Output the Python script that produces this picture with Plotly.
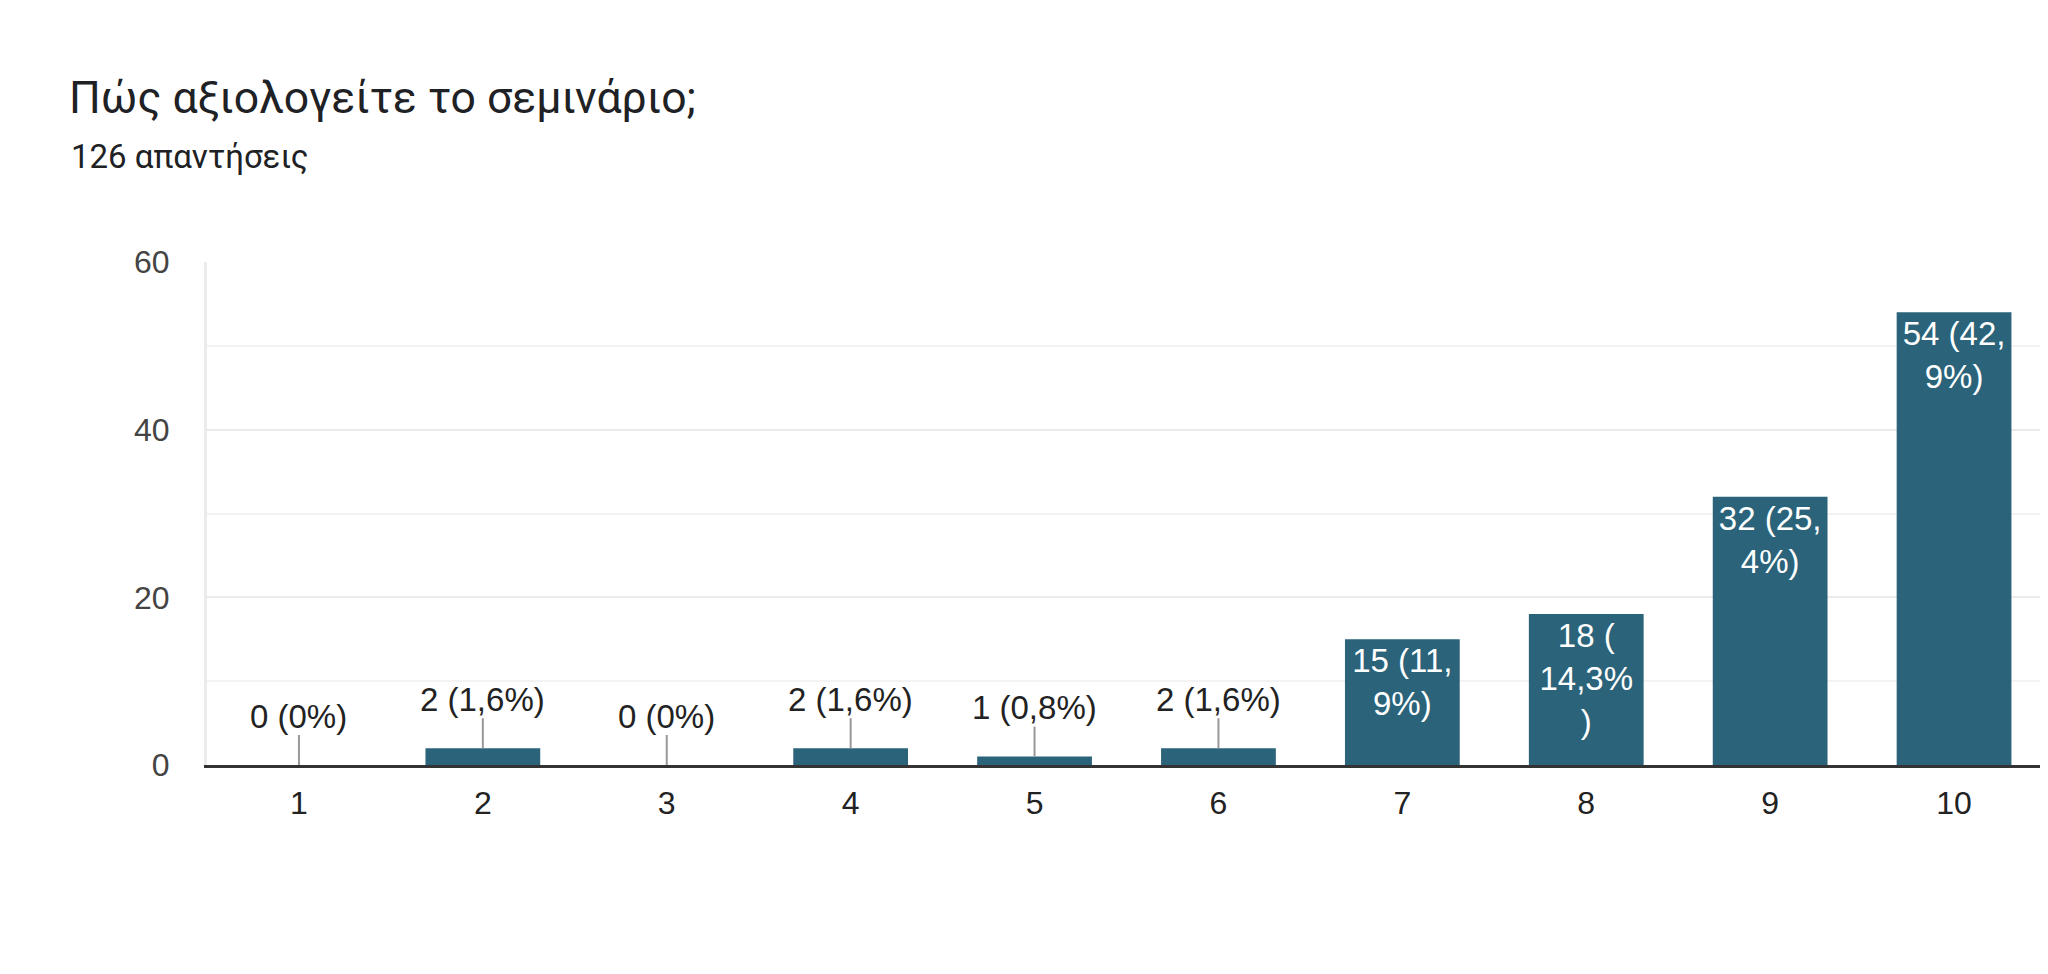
import plotly.graph_objects as go

# ---- data ----
categories = [1, 2, 3, 4, 5, 6, 7, 8, 9, 10]
counts = [0, 2, 0, 2, 1, 2, 15, 18, 32, 54]
labels = ["0 (0%)", "2 (1,6%)", "0 (0%)", "2 (1,6%)", "1 (0,8%)", "2 (1,6%)",
          "15 (11,<br>9%)", "18 (<br>14,3%<br>)", "32 (25,<br>4%)", "54 (42,<br>9%)"]
inside = [False, False, False, False, False, False, True, True, True, True]
y_ticks = [0, 20, 40, 60]
y_minor = [10, 30, 50]
title_text = "Πώς αξιολογείτε το σεμινάριο;"
subtitle_text = "126 απαντήσεις"

BAR = "#2a637a"
FONT = "Arial, Liberation Sans, sans-serif"

# page body adds a margin around the figure
W, H = 2043, 966
ML, MR, MT, MB = 199, 2, 254, 209

fig = go.Figure()
fig.add_trace(go.Bar(
    x=categories, y=counts,
    marker=dict(color=BAR, line=dict(width=0)),
    text=[t if i else "" for t, i in zip(labels, inside)],
    textposition="inside", insidetextanchor="end",
    textangle=0, constraintext="none",
    insidetextfont=dict(family=FONT, size=33, color="#ffffff"),
    hoverinfo="skip",
))

annotations = []
for c, v, t, i in zip(categories, counts, labels, inside):
    if i:
        continue
    annotations.append(dict(
        x=c, y=v, xref="x", yref="y", text=t,
        showarrow=True, arrowhead=0, arrowwidth=2, arrowcolor="#999999",
        ax=0, ay=-49, standoff=0, borderpad=0,
        font=dict(family=FONT, size=33, color="#222222"),
    ))

plot_h = H - MT - MB
plot_w = W - ML - MR
annotations.append(dict(
    text=subtitle_text, xref="paper", yref="paper",
    x=(61 - ML) / plot_w, y=(H - MB - 148) / plot_h,
    xanchor="left", yanchor="middle", showarrow=False,
    font=dict(family="Roboto", size=33, color="#202124"),
))

fig.update_layout(
    width=W, height=H,
    margin=dict(l=ML, r=MR, t=MT, b=MB, pad=0),
    paper_bgcolor="white", plot_bgcolor="white",
    bargap=0.376,
    showlegend=False,
    title=dict(text=title_text, x=61 / W, xanchor="left", xref="container",
               y=1 - 89 / H, yanchor="middle", yref="container",
               font=dict(family="Roboto", size=44.5, color="#202124")),
    annotations=annotations,
    xaxis=dict(
        range=[0.5, 10.5], tickvals=categories, ticktext=[str(c) for c in categories],
        showgrid=False, zeroline=False,
        showline=True, linecolor="#333333", linewidth=3,
        ticks="outside", ticklen=8, tickcolor="rgba(0,0,0,0)",
        tickfont=dict(family=FONT, size=32, color="#222222"),
    ),
    yaxis=dict(
        range=[0, 60], tickvals=y_ticks, showgrid=True,
        gridcolor="#ebebeb", gridwidth=2,
        zeroline=False, showline=True, mirror=True,
        linecolor="#ebebeb", linewidth=3,
        ticks="outside", ticklen=28, tickcolor="rgba(0,0,0,0)",
        tickfont=dict(family=FONT, size=32, color="#444444"),
        minor=dict(tickvals=y_minor, showgrid=True, gridcolor="#f3f3f3", gridwidth=2),
    ),
)

fig.write_html("out.html")
